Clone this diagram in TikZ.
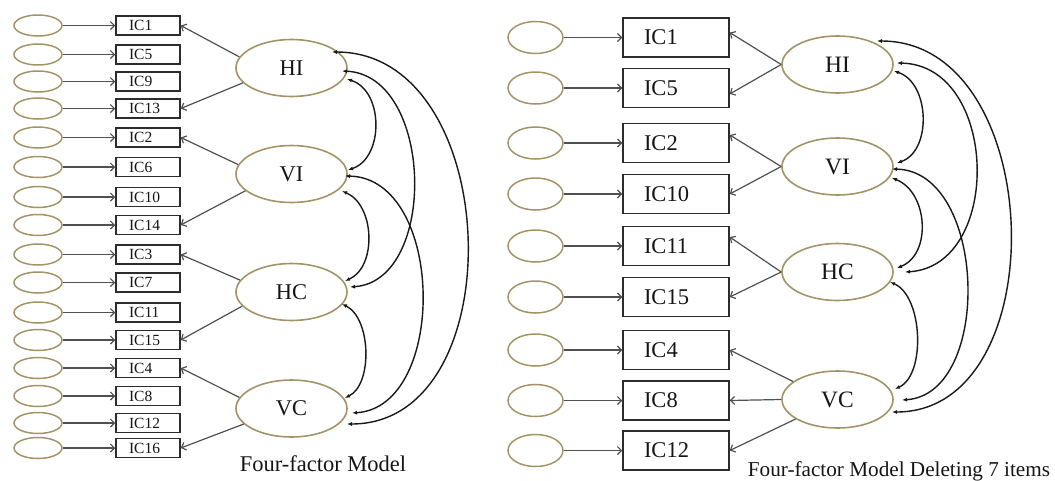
\documentclass[tikz,border=0pt]{standalone}
\usepackage{fontspec}
\setmainfont{Liberation Serif}
\usetikzlibrary{shapes.geometric,arrows.meta}

\definecolor{khaki}{HTML}{A39467}
\definecolor{ink}{HTML}{151515}
\definecolor{linegray}{HTML}{505050}

\tikzset{
  errL/.style={ellipse, draw=khaki, line width=1.5pt, minimum width=48pt, minimum height=21pt, inner sep=0pt},
  errR/.style={ellipse, draw=khaki, line width=1.5pt, minimum width=55pt, minimum height=32pt, inner sep=0pt},
  itemL/.style={rectangle, draw=ink!90, line width=1.5pt, minimum height=19pt, inner ysep=0pt,
    inner xsep=13pt, text width=38pt, align=left, text=ink, font=\fontsize{15.5}{17}\selectfont},
  itemR/.style={rectangle, draw=ink!90, line width=1.5pt, minimum height=39pt, inner ysep=0pt,
    inner xsep=21pt, text width=64pt, align=left, text=ink, font=\fontsize{22.5}{25}\selectfont},
  factorL/.style={ellipse, draw=khaki, line width=1.6pt, minimum width=111pt, minimum height=57pt,
    inner sep=0pt, text=ink, font=\fontsize{22.5}{25}\selectfont},
  factorR/.style={ellipse, draw=khaki, line width=1.6pt, minimum width=111pt, minimum height=57pt,
    inner sep=0pt, text=ink, font=\fontsize{23.5}{26}\selectfont},
  errarrow/.style={draw=linegray, line width=1.2pt, -{Straight Barb[length=4pt,width=8pt]}},
  loading/.style={draw=linegray, line width=1.2pt, -{Straight Barb[length=4pt,width=8pt]}},
  cov/.style={draw=black!90, line width=1.4pt,
    {Latex[length=5pt,width=4pt]}-{Latex[length=5pt,width=4pt]}},
  caption/.style={anchor=base, text=ink}
}

\begin{document}
\begin{tikzpicture}[x=1pt,y=-1pt]
\useasboundingbox (0,0) rectangle (1055,480);

% ---------- four-factor model: sixteen items ----------
\foreach \name/\y in {1/25.5, 5/54.5, 9/81.5, 13/108.5, 2/137.5, 6/167, 10/197, 14/225,
                      3/254.5, 7/282.5, 11/312.5, 15/340, 4/368, 8/396, 12/423, 16/448} {
  \node[errL] (eL\name) at (38,\y) {};
  \node[itemL] (iL\name) at (148,\y) {IC\name};
  \draw[errarrow] (eL\name) -- (iL\name);
}

\node[factorL] (lHI) at (291.5,68) {HI};
\node[factorL] (lVI) at (291.5,174) {VI};
\node[factorL] (lHC) at (291.5,292) {HC};
\node[factorL] (lVC) at (291.5,408.5) {VC};

\draw[loading] (lHI.168) -- (iL1.east);
\draw[loading] (lHI.197) -- (iL13.east);
\draw[loading] (lVI.170) -- (iL2.east);
\draw[loading] (lVI.200) -- (iL14.east);
\draw[loading] (lHC.167) -- (iL3.east);
\draw[loading] (lHC.196) -- (iL15.east);
\draw[loading] (lVC.168) -- (iL4.east);
\draw[loading] (lVC.198) -- (iL16.east);

% factor covariances
\draw[cov] ([shift={(55.5,11)}]lHI.center) .. controls +(37,12) and +(36,-12) .. ([shift={(56.5,-4)}]lVI.center);
\draw[cov] ([shift={(50.5,3)}]lHI.center) .. controls +(92,4) and +(88,-6) .. ([shift={(58.5,-5)}]lHC.center);
\draw[cov] ([shift={(40.5,-16)}]lHI.center) .. controls +(172,0) and +(168,0) .. ([shift={(55.5,15.5)}]lVC.center);
\draw[cov] ([shift={(50.5,17)}]lVI.center) .. controls +(33,14) and +(32,-14) .. ([shift={(53.5,-11)}]lHC.center);
\draw[cov] ([shift={(53.5,2)}]lVI.center) .. controls +(100,2) and +(96,-6) .. ([shift={(60.5,4.5)}]lVC.center);
\draw[cov] ([shift={(50.5,12)}]lHC.center) .. controls +(29,14) and +(28,-14) .. ([shift={(53.5,-10.5)}]lVC.center);

\node[caption, font=\fontsize{22.5}{25}\selectfont] (capL) at (323,471) {Four-factor Model};

% ---------- four-factor model after deleting seven items ----------
\foreach \name/\y in {1/37.5, 5/88, 2/143, 10/194, 11/246, 15/297, 4/350, 8/400.5, 12/450.5} {
  \node[errR] (eR\name) at (535.5,\y) {};
  \node[itemR] (iR\name) at (676,\y) {IC\name};
  \draw[errarrow] (eR\name) -- (iR\name);
}

\node[factorR] (rHI) at (837.5,64.5) {HI};
\node[factorR] (rVI) at (837.5,166.5) {VI};
\node[factorR] (rHC) at (837.5,272) {HC};
\node[factorR] (rVC) at (837.5,399.5) {VC};

\draw[loading] (rHI.west) -- ([yshift=5pt]iR1.east);
\draw[loading] (rHI.west) -- ([yshift=-6pt]iR5.east);
\draw[loading] (rVI.west) -- ([yshift=8pt]iR2.east);
\draw[loading] (rVI.west) -- (iR10.east);
\draw[loading] (rHC.west) -- ([yshift=9pt]iR11.east);
\draw[loading] (rHC.west) -- (iR15.east);
\draw[loading] (rVC.158) -- (iR4.east);
\draw[loading] (rVC.west) -- (iR8.east);
\draw[loading] (rVC.205) -- (iR12.east);

\draw[cov] ([shift={(56.5,6.5)}]rHI.center) .. controls +(36,12) and +(35,-12) .. ([shift={(59.5,-3.5)}]rVI.center);
\draw[cov] ([shift={(59.5,-1.5)}]rHI.center) .. controls +(102,2) and +(98,-6) .. ([shift={(67.5,0)}]rHC.center);
\draw[cov] ([shift={(39.5,-23.5)}]rHI.center) .. controls +(170,0) and +(165,0) .. ([shift={(54.5,12.5)}]rVC.center);
\draw[cov] ([shift={(54.5,11.5)}]rVI.center) .. controls +(36,14) and +(35,-14) .. ([shift={(59.5,-4)}]rHC.center);
\draw[cov] ([shift={(54.5,2.5)}]rVI.center) .. controls +(95,2) and +(91,-6) .. ([shift={(64.5,0.5)}]rVC.center);
\draw[cov] ([shift={(52.5,10)}]rHC.center) .. controls +(33,14) and +(31,-14) .. ([shift={(57.5,-10.5)}]rVC.center);

\node[caption, font=\fontsize{21.2}{24}\selectfont] (capR) at (899,476) {Four-factor Model Deleting 7 items};
\end{tikzpicture}
\end{document}
